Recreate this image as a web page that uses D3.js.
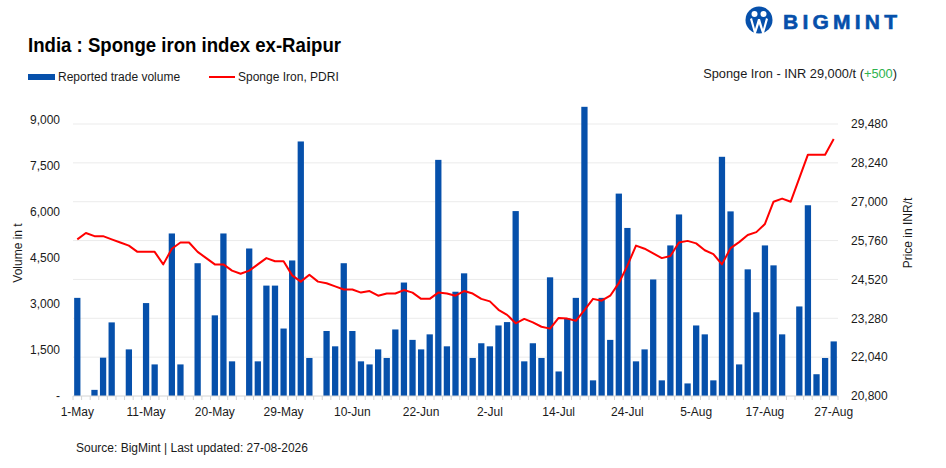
<!DOCTYPE html>
<html>
<head>
<meta charset="utf-8">
<script src="https://cdn.jsdelivr.net/npm/d3@7"></script>
<style>
  body { margin: 0; background: #fff; }
  svg text { font-family: "Liberation Sans", Arial, sans-serif; fill: #1a1a1a; }
  .axis path, .axis line { stroke: none; }
  .axis text { font-size: 12px; }
</style>
</head>
<body>
<div id="chart"></div>
<script>
// trading days shown on the x axis
var dates = ["1-May","2-May","4-May","5-May","6-May","7-May","8-May","9-May","11-May","12-May",
  "13-May","14-May","15-May","16-May","18-May","19-May","20-May","21-May","22-May","23-May",
  "25-May","26-May","27-May","28-May","29-May","1-Jun","2-Jun","3-Jun","4-Jun","5-Jun",
  "8-Jun","9-Jun","10-Jun","11-Jun","12-Jun","15-Jun","16-Jun","17-Jun","18-Jun","19-Jun",
  "22-Jun","23-Jun","24-Jun","25-Jun","26-Jun","29-Jun","30-Jun","1-Jul","2-Jul","3-Jul",
  "6-Jul","7-Jul","8-Jul","9-Jul","10-Jul","13-Jul","14-Jul","15-Jul","16-Jul","17-Jul",
  "20-Jul","21-Jul","22-Jul","23-Jul","24-Jul","27-Jul","28-Jul","29-Jul","30-Jul","31-Jul",
  "3-Aug","4-Aug","5-Aug","6-Aug","7-Aug","10-Aug","11-Aug","12-Aug","13-Aug","14-Aug",
  "17-Aug","18-Aug","19-Aug","20-Aug","21-Aug","24-Aug","25-Aug","26-Aug","27-Aug"];

// reported trade volume (t)
var volumes = [3200,0,200,1250,2400,0,1520,0,3030,1030,
  0,5300,1030,0,4330,0,2630,5300,1130,0,
  4810,1130,3600,3600,2200,4420,8300,1240,0,2120,
  1620,4330,2120,1130,1030,1520,1240,2170,3700,1830,
  1520,2010,7700,1620,3400,4000,1240,1720,1620,2300,
  2410,6030,1130,1720,1240,3870,800,2530,3200,9430,
  510,3200,1830,6600,5480,1130,1520,3800,510,4910,
  5920,410,2300,2010,510,7800,6020,1030,4130,2730,
  4910,4260,2010,0,2920,6220,710,1240,1780];

// Sponge Iron, PDRI (INR/t)
var prices = [25800,26000,25900,25900,25800,25700,25600,25400,25400,25400,
  25000,25500,25700,25700,25400,25200,25000,25000,24800,24700,
  24800,25000,25200,25100,25100,24650,24450,24670,24450,24400,
  24300,24200,24200,24100,24150,24000,24070,24070,24180,24100,
  23900,23900,24100,24070,24000,24150,24070,23900,23820,23550,
  23390,23120,23260,23150,23010,22950,23290,23270,23200,23540,
  23900,23840,24000,24400,24960,25600,25500,25350,25200,25270,
  25700,25750,25670,25450,25330,25000,25520,25710,25940,26030,
  26290,27000,27100,27000,27750,28500,28500,28500,29000];

var volumeTicks = [0, 1500, 3000, 4500, 6000, 7500, 9000];
var priceTicks = [20800, 22040, 23280, 24520, 25760, 27000, 28240, 29480];

var blue = "#0650ab";
var red = "#ff0000";

var margin = { top: 124, right: 108, bottom: 72, left: 73 };
var width = 946 - margin.left - margin.right;
var height = 468 - margin.top - margin.bottom;

var svg = d3.select("#chart").append("svg")
    .attr("width", 946)
    .attr("height", 468);

var g = svg.append("g")
    .attr("transform", "translate(" + margin.left + "," + margin.top + ")");

// Scales
var x = d3.scaleBand()
    .domain(dates)
    .range([0, width])
    .paddingInner(0.27)
    .paddingOuter(0.135);

var slot = d3.scaleBand().domain(dates).range([0, width]);

// left axis: 1,500 t per 46px, top of plot sits just under 9,000
var yVol = d3.scaleLinear()
    .domain([0, height * 1500 / 46])
    .range([height, 0]);

var yPrice = d3.scaleLinear()
    .domain([20800, 29480])
    .range([height, 0]);

// gridlines follow the price axis
g.append("g")
    .selectAll("line")
    .data(priceTicks.slice(1))
    .enter().append("line")
    .attr("x1", 0)
    .attr("x2", width)
    .attr("y1", function(d) { return yPrice(d); })
    .attr("y2", function(d) { return yPrice(d); })
    .attr("stroke", "#ebebeb")
    .attr("stroke-width", 1);

// bars
g.append("g")
    .selectAll("rect")
    .data(volumes)
    .enter().append("rect")
    .attr("x", function(d, i) { return x(dates[i]); })
    .attr("width", x.bandwidth())
    .attr("y", function(d) { return yVol(d); })
    .attr("height", function(d) { return height - yVol(d); })
    .attr("fill", blue);

// x axis baseline and category ticks
g.append("line")
    .attr("x1", 0)
    .attr("x2", width)
    .attr("y1", height)
    .attr("y2", height)
    .attr("stroke", "#d4d4d4");

g.append("g")
    .selectAll("line")
    .data(dates.concat(["end"]))
    .enter().append("line")
    .attr("x1", function(d, i) { return i * slot.step(); })
    .attr("x2", function(d, i) { return i * slot.step(); })
    .attr("y1", height)
    .attr("y2", height + 4)
    .attr("stroke", "#d4d4d4");

var xAxis = d3.axisBottom(x)
    .tickValues(dates.filter(function(d, i) { return i % 8 === 0; }))
    .tickSize(0)
    .tickPadding(11);

g.append("g")
    .attr("class", "x-axis axis")
    .attr("transform", "translate(0," + height + ")")
    .call(xAxis);

// price line
var line = d3.line()
    .x(function(d, i) { return x(dates[i]) + x.bandwidth() / 2; })
    .y(function(d) { return yPrice(d); });

g.append("path")
    .datum(prices)
    .attr("fill", "none")
    .attr("stroke", red)
    .attr("stroke-width", 2)
    .attr("stroke-linejoin", "round")
    .attr("d", line);

// y axes
var yAxisLeft = d3.axisLeft(yVol)
    .tickValues(volumeTicks)
    .tickSize(0)
    .tickPadding(13)
    .tickFormat(function(d) { return d === 0 ? "-" : d3.format(",")(d); });

g.append("g")
    .attr("class", "y-axis axis")
    .call(yAxisLeft);

var yAxisRight = d3.axisRight(yPrice)
    .tickValues(priceTicks)
    .tickSize(0)
    .tickPadding(13)
    .tickFormat(d3.format(","));

g.append("g")
    .attr("class", "y-axis axis")
    .attr("transform", "translate(" + width + ",0)")
    .call(yAxisRight);

// axis titles
svg.append("text")
    .attr("transform", "translate(22,253) rotate(-90)")
    .attr("text-anchor", "middle")
    .attr("font-size", 12)
    .text("Volume in t");

svg.append("text")
    .attr("transform", "translate(912,233) rotate(-90)")
    .attr("text-anchor", "middle")
    .attr("font-size", 12)
    .text("Price in INR/t");

// title
svg.append("text")
    .attr("x", 28)
    .attr("y", 52)
    .attr("font-size", 21)
    .attr("font-weight", "bold")
    .attr("textLength", 313)
    .attr("lengthAdjust", "spacingAndGlyphs")
    .style("fill", "#000")
    .text("India : Sponge iron index ex-Raipur");

// legend
svg.append("rect")
    .attr("x", 28).attr("y", 74)
    .attr("width", 27).attr("height", 6)
    .attr("fill", blue);
svg.append("text")
    .attr("x", 58).attr("y", 81)
    .attr("font-size", 12)
    .text("Reported trade volume");

svg.append("line")
    .attr("x1", 209).attr("x2", 235)
    .attr("y1", 77).attr("y2", 77)
    .attr("stroke", red)
    .attr("stroke-width", 2);
svg.append("text")
    .attr("x", 238).attr("y", 81)
    .attr("font-size", 12)
    .text("Sponge Iron, PDRI");

// latest price note
var note = svg.append("text")
    .attr("x", 897).attr("y", 78)
    .attr("text-anchor", "end")
    .attr("font-size", 12.8);
note.append("tspan").text("Sponge Iron - INR 29,000/t (");
note.append("tspan").style("fill", "#2eb34f").text("+500");
note.append("tspan").text(")");

// source
svg.append("text")
    .attr("x", 76).attr("y", 452)
    .attr("font-size", 12)
    .text("Source: BigMint | Last updated: 27-08-2026");

// logo
var logo = svg.append("g").attr("transform", "translate(759,20)");
logo.append("circle").attr("r", 13.5).attr("fill", blue);
logo.append("circle").attr("cx", -4.5).attr("cy", -6).attr("r", 3).attr("fill", "#fff");
logo.append("circle").attr("cx", 4.5).attr("cy", -6).attr("r", 3).attr("fill", "#fff");
logo.append("path")
    .attr("d", "M-9,-1 L-7,-2 L-4,9 L-1,-1 L1,-1 L4,9 L7,-2 L9,-1 L5,13 L3,13 L0,4 L-3,13 L-5,13 Z")
    .attr("fill", "#fff");
svg.append("text")
    .attr("x", 783).attr("y", 29)
    .attr("font-size", 21)
    .attr("font-weight", "900")
    .attr("textLength", 114)
    .attr("lengthAdjust", "spacing")
    .style("fill", blue)
    .style("stroke", blue)
    .style("stroke-width", 0.6)
    .text("BIGMINT");
</script>
</body>
</html>
